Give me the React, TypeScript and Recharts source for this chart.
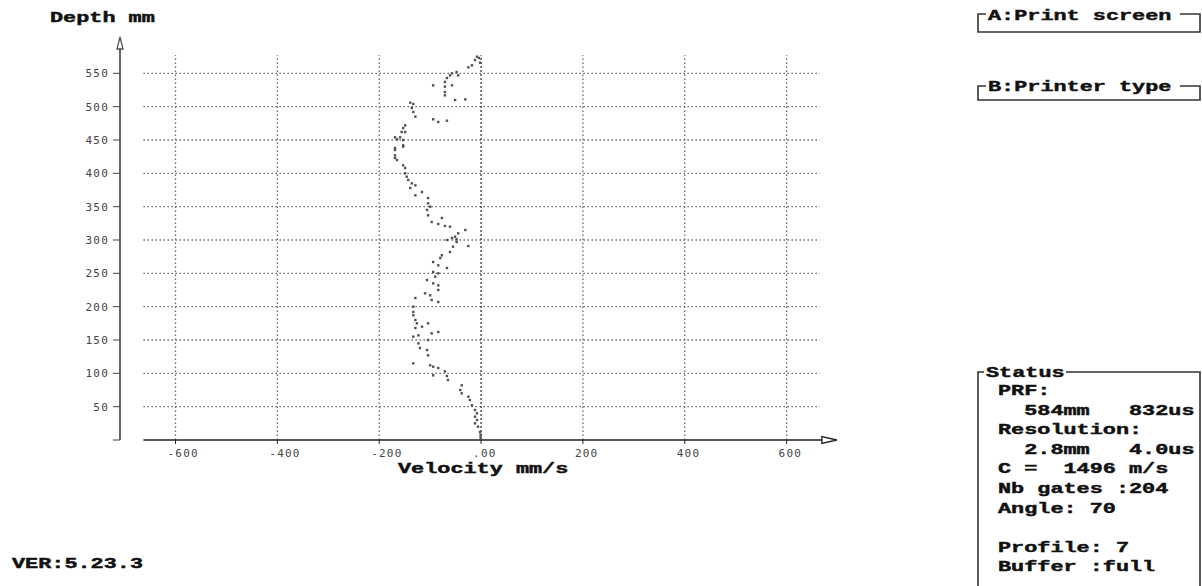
import { ScatterChart, Scatter, XAxis, YAxis, ReferenceLine, ReferenceDot } from 'recharts';

// velocity profile (depth in mm, velocity in mm/s)
const depthMm = [
  0, 4, 8, 12, 20, 25, 30, 35, 40, 45, 52, 60, 65, 70, 75, 82, 90, 96, 97, 103,
  108, 110, 112, 115, 127, 135, 138, 145, 150, 155, 157, 160, 162, 168, 170, 175, 175, 180, 187, 192,
  200, 207, 210, 213, 217, 220, 225, 232, 235, 240, 245, 250, 252, 258, 262, 267, 273, 277, 282, 290,
  291, 297, 300, 301, 303, 305, 310, 315, 320, 321, 324, 327, 333, 337, 345, 350, 355, 363, 367, 372,
  378, 382, 385, 390, 395, 400, 408, 412, 420, 423, 427, 435, 438, 440, 442, 450, 451, 454, 454, 462,
  462, 468, 472, 477, 479, 481, 485, 492, 498, 504, 506, 510, 511, 517, 522, 530, 532, 532, 537, 543,
  547, 547, 550, 552, 559, 562, 566, 570, 573, 575,
];
const velocityMmS = [
  -1, -1, -1, -2, -6, -12, -8, -12, -8, -12, -18, -22, -25, -38, -41, -38, -65, -67, -94, -71,
  -84, -94, -100, -133, -104, -106, -120, -123, -104, -133, -123, -97, -84, -129, -116, -104, -126, -129, -133, -133,
  -133, -84, -97, -129, -100, -110, -84, -84, -94, -106, -90, -84, -94, -67, -84, -94, -80, -77, -61, -55,
  -25, -48, -67, -48, -57, -51, -45, -31, -61, -71, -84, -97, -77, -104, -106, -100, -104, -104, -129, -116,
  -139, -129, -136, -143, -146, -149, -149, -153, -165, -169, -169, -169, -169, -153, -153, -153, -165, -159, -169, -149,
  -156, -153, -149, -84, -67, -94, -129, -133, -136, -133, -139, -51, -31, -71, -71, -71, -57, -94, -71, -67,
  -61, -45, -57, -48, -25, -18, -2, -12, -4, -8,
];

const depthTicks = [0, 50, 100, 150, 200, 250, 300, 350, 400, 450, 500, 550];
const velocityTicks = [-600, -400, -200, 0, 200, 400, 600];

const statusLines = [
  'PRF:',
  '  584mm   832us',
  'Resolution:',
  '  2.8mm   4.0us',
  'C =  1496 m/s',
  'Nb gates :204',
  'Angle: 70',
  '',
  'Profile: 7',
  'Buffer :full',
];

const profile = depthMm.map((d, i) => ({ d, v: velocityMmS[i] }));

const CELL = 13.1;
const BOLD = '"Liberation Mono", "DejaVu Sans Mono", monospace';
const THIN = '"DejaVu Sans Mono", monospace';
const gridStyle = { stroke: '#666', strokeWidth: 1.3, strokeDasharray: '1.5 2.5' };

function DosText({ x, y, children }: { x: number; y: number; children: string }) {
  return (
    <text
      x={x}
      y={y}
      fontFamily={BOLD}
      fontWeight="bold"
      fontSize={15}
      fill="#111"
      stroke="#111"
      strokeWidth={0.45}
      textLength={children.length * CELL}
      lengthAdjust="spacingAndGlyphs"
      xmlSpace="preserve"
      style={{ whiteSpace: 'pre' }}
    >
      {children}
    </text>
  );
}

function ProfileDot({ cx, cy }: any) {
  return <rect x={cx - 1.2} y={cy - 1.2} width={2.4} height={2.4} fill="#505050" />;
}

function VelocityTick({ x, y, payload }: any) {
  const label = payload.value === 0 ? '.00' : String(payload.value);
  return (
    <text x={x - 8} y={y + 3} dy="0.71em" textAnchor="start" fontFamily={THIN} fontSize={11} fill="#444" letterSpacing={1.2}>
      {label}
    </text>
  );
}

function UpArrow({ cx, cy }: any) {
  return <polygon points={`${cx},${cy - 7} ${cx + 3},${cy + 5} ${cx - 3},${cy + 5}`} fill="#fff" stroke="#555" strokeWidth={1.3} />;
}

function RightArrow({ cx, cy }: any) {
  return <polygon points={`${cx + 8},${cy} ${cx - 7},${cy - 3.5} ${cx - 7},${cy + 3.5}`} fill="#fff" stroke="#222" strokeWidth={1.3} />;
}

function Frame({ top, bottom, titleEnd }: { top: number; bottom: number; titleEnd: number }) {
  return (
    <path
      d={`M 986 ${top} H 978 V ${bottom} H 1200 V ${top} H ${titleEnd}`}
      fill="none"
      stroke="#333"
      strokeWidth={1.6}
    />
  );
}

export default function App() {
  return (
    <div style={{ position: 'absolute', left: 0, top: 0, width: 1202, height: 586, background: '#fff' }}>
      <ScatterChart width={1202} height={586} margin={{ top: 40, right: 367, bottom: 116, left: 0 }}>
        <XAxis
          type="number"
          dataKey="v"
          domain={[-709, 695]}
          ticks={velocityTicks}
          axisLine={false}
          tickSize={4}
          tickLine={{ stroke: '#222' }}
          tick={<VelocityTick />}
          height={30}
          allowDataOverflow
        />
        <YAxis
          type="number"
          dataKey="d"
          domain={[0, 600]}
          ticks={depthTicks}
          tickFormatter={(v: number) => (v === 0 ? '' : String(v))}
          width={120}
          tickSize={7}
          tickMargin={4}
          axisLine={{ stroke: '#666', strokeWidth: 2 }}
          tickLine={{ stroke: '#444' }}
          tick={{ fontFamily: THIN, fontSize: 11, fill: '#444', letterSpacing: 1.2 }}
          allowDataOverflow
        />
        {depthTicks.filter((d) => d > 0).map((d) => (
          <ReferenceLine key={'h' + d} segment={[{ x: -663, y: d }, { x: 665, y: d }]} {...gridStyle} ifOverflow="visible" />
        ))}
        {velocityTicks.map((v) => (
          <ReferenceLine
            key={'v' + v}
            segment={[{ x: v, y: 0 }, { x: v, y: 577 }]}
            {...gridStyle}
            stroke={v === 0 ? '#333' : '#666'}
            strokeDasharray={v === 0 ? '2 2' : '1.5 2.5'}
            ifOverflow="visible"
          />
        ))}
        <ReferenceLine segment={[{ x: -663, y: 0 }, { x: 680, y: 0 }]} stroke="#222" strokeWidth={1.6} ifOverflow="visible" />
        <ReferenceDot x={683} y={0} r={4} shape={<RightArrow />} ifOverflow="visible" />
        <ReferenceDot x={-709} y={594} r={4} shape={<UpArrow />} ifOverflow="visible" />
        <Scatter data={profile} shape={<ProfileDot />} isAnimationActive={false} />
      </ScatterChart>

      <svg width={1202} height={586} style={{ position: 'absolute', left: 0, top: 0, pointerEvents: 'none' }}>
        <DosText x={50} y={22}>Depth mm</DosText>
        <DosText x={398} y={473}>Velocity mm/s</DosText>
        <DosText x={12} y={568}>VER:5.23.3</DosText>

        <Frame top={14} bottom={32} titleEnd={1180} />
        <DosText x={988} y={20}>A:Print screen</DosText>
        <Frame top={86} bottom={100} titleEnd={1180} />
        <DosText x={988} y={91}>B:Printer type</DosText>

        <path d="M 984 372 H 978 V 590 M 1200 590 V 372 H 1066" fill="none" stroke="#333" strokeWidth={1.6} />
        <DosText x={986} y={377}>Status</DosText>
        {statusLines.map((line, i) =>
          line ? (
            <DosText key={i} x={998} y={395 + i * 19.6}>
              {line}
            </DosText>
          ) : null
        )}
      </svg>
    </div>
  );
}
